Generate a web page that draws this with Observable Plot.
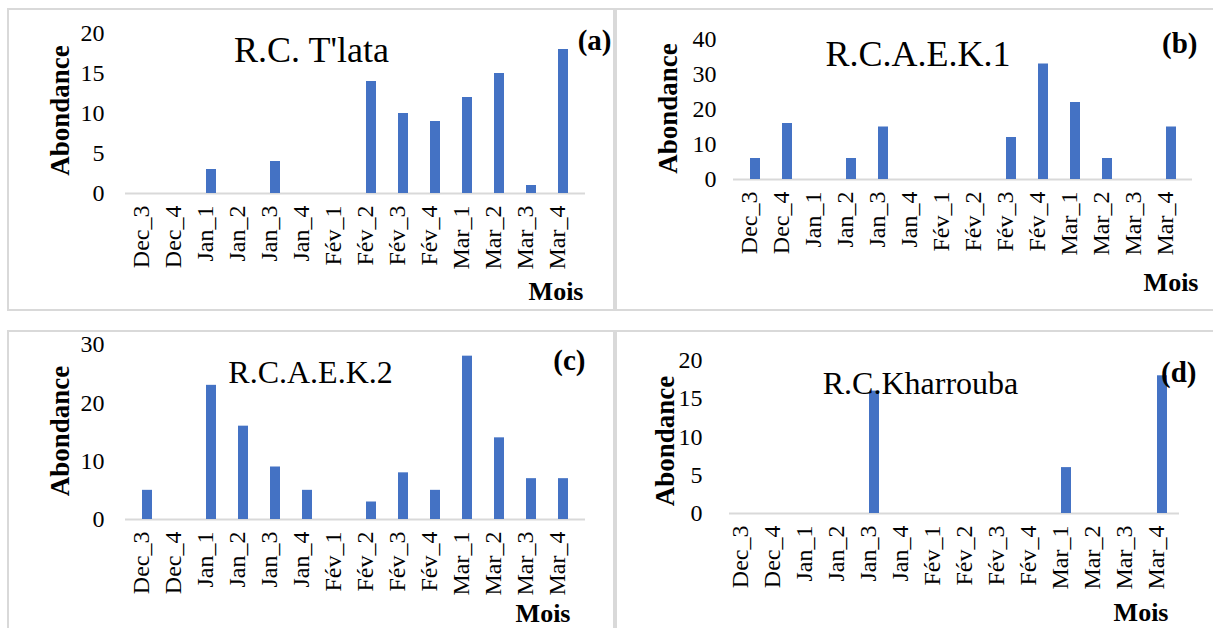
<!DOCTYPE html>
<html>
<head>
<meta charset="utf-8">
<script src="https://cdn.jsdelivr.net/npm/d3@7"></script>
<script src="https://cdn.jsdelivr.net/npm/@observablehq/plot@0.6"></script>
<style>
  html, body { margin: 0; padding: 0; background: #fff; }
  #root { position: relative; width: 1213px; height: 628px; overflow: hidden; background: #fff; }
  .frame { position: absolute; box-sizing: border-box; border: 2px solid #d9d9d9; }
  .panel { position: absolute; }
  .panel svg { overflow: visible; }
</style>
</head>
<body>
<div id="root"></div>
<script>
// ---- Data ----
const months = ["Dec_3","Dec_4","Jan_1","Jan_2","Jan_3","Jan_4","Fév_1","Fév_2","Fév_3","Fév_4","Mar_1","Mar_2","Mar_3","Mar_4"];
const valuesA = [0, 0, 3, 0, 4, 0, 0, 14, 10, 9, 12, 15, 1, 18];
const valuesB = [6, 16, 0, 6, 15, 0, 0, 0, 12, 33, 22, 6, 0, 15];
const valuesC = [5, 0, 23, 16, 9, 5, 0, 3, 8, 5, 28, 14, 7, 7];
const valuesD = [0, 0, 0, 0, 16, 0, 0, 0, 0, 0, 6, 0, 0, 18];
const titles = ["R.C. T'lata", "R.C.A.E.K.1", "R.C.A.E.K.2", "R.C.Kharrouba"];
const tags = ["(a)", "(b)", "(c)", "(d)"];
const ticksA = [0, 5, 10, 15, 20];
const ticksB = [0, 10, 20, 30, 40];
const ticksC = [0, 10, 20, 30];
const ticksD = [0, 5, 10, 15, 20];
const yLabel = "Abondance";
const xLabel = "Mois";

// ---- Layout ----
const root = document.getElementById("root");
const frames = [
  {left: 7, top: 8, width: 608, height: 303},
  {left: 615, top: 8, width: 620, height: 303},
  {left: 7, top: 330, width: 608, height: 320},
  {left: 615, top: 330, width: 620, height: 320}
];
frames.forEach(f => {
  const d = document.createElement("div");
  d.className = "frame";
  Object.assign(d.style, {left: f.left + "px", top: f.top + "px", width: f.width + "px", height: f.height + "px"});
  root.appendChild(d);
});

const panels = [
  {values: valuesA, ticks: ticksA, ymax: 20, title: titles[0], tag: tags[0],
   left: 8, top: 9, width: 606, height: 302, mt: 24, mb: 118, ml: 117, mr: 29,
   tickPadY: 21, tickPadX: 12,
   titleSize: 36, titleDx: -44, titleDy: 17,
   tagDx: 26, tagDy: 7,
   yLabDx: -65, yLabDy: -3,
   xLabDx: -2, xLabDy: 98},
  {values: valuesB, ticks: ticksB, ymax: 40, title: titles[1], tag: tags[1],
   left: 616, top: 9, width: 597, height: 302, mt: 30, mb: 132, ml: 117, mr: 21,
   tickPadY: 17, tickPadX: 12,
   titleSize: 36, titleDx: -45, titleDy: 15,
   tagDx: 5, tagDy: 4,
   yLabDx: -65, yLabDy: -1,
   xLabDx: 6, xLabDy: 103},
  {values: valuesC, ticks: ticksC, ymax: 30, title: titles[2], tag: tags[2],
   left: 8, top: 331, width: 606, height: 297, mt: 13, mb: 109, ml: 117, mr: 29,
   tickPadY: 21, tickPadX: 12,
   titleSize: 32, titleDx: -45, titleDy: 28,
   tagDx: 0, tagDy: 16,
   yLabDx: -65, yLabDy: -1,
   xLabDx: -15, xLabDy: 94},
  {values: valuesD, ticks: ticksD, ymax: 20, title: titles[3], tag: tags[3],
   left: 616, top: 331, width: 597, height: 297, mt: 29, mb: 115, ml: 113, mr: 34,
   tickPadY: 27, tickPadX: 12,
   titleSize: 32, titleDx: -34, titleDy: 23,
   tagDx: 17, tagDy: 12,
   yLabDx: -64, yLabDy: 4,
   xLabDx: -11, xLabDy: 99}
];

panels.forEach(p => {
  const data = months.map((m, i) => ({m, v: p.values[i]}));
  const chart = Plot.plot({
    width: p.width,
    height: p.height,
    marginTop: p.mt,
    marginBottom: p.mb,
    marginLeft: p.ml,
    marginRight: p.mr,
    style: {fontFamily: "'Liberation Serif', 'Times New Roman', serif", color: "black", background: "transparent", overflow: "visible"},
    x: {domain: months, paddingInner: 0.7, paddingOuter: 0.35, axis: null},
    y: {domain: [0, p.ymax], axis: null},
    marks: [
      Plot.ruleY([0], {stroke: "#d9d9d9", strokeWidth: 2}),
      Plot.barY(data, {x: "m", y: "v", fill: "#4472C4"}),
      Plot.axisY({ticks: p.ticks, tickSize: 0, tickPadding: p.tickPadY, fontSize: 24, label: null, fill: "black"}),
      Plot.axisX({tickRotate: -90, tickSize: 0, tickPadding: p.tickPadX, fontSize: 24, dx: -6, label: null, fill: "black"}),
      Plot.text([p.title], {frameAnchor: "top", dx: p.titleDx, dy: p.titleDy, fontSize: p.titleSize, lineAnchor: "middle", fill: "black"}),
      Plot.text([p.tag], {frameAnchor: "top-right", textAnchor: "end", dx: p.tagDx, dy: p.tagDy, fontSize: 29, fontWeight: "bold", lineAnchor: "middle", fill: "black"}),
      Plot.text([yLabel], {frameAnchor: "left", rotate: -90, textAnchor: "middle", dx: p.yLabDx, dy: p.yLabDy, fontSize: 27, fontWeight: "bold", lineAnchor: "middle", fill: "black"}),
      Plot.text([xLabel], {frameAnchor: "bottom-right", textAnchor: "end", dx: p.xLabDx, dy: p.xLabDy, fontSize: 26, fontWeight: "bold", lineAnchor: "middle", fill: "black"})
    ]
  });
  const wrap = document.createElement("div");
  wrap.className = "panel";
  Object.assign(wrap.style, {left: p.left + "px", top: p.top + "px", width: p.width + "px", height: p.height + "px"});
  wrap.appendChild(chart);
  root.appendChild(wrap);
});
</script>
</body>
</html>
